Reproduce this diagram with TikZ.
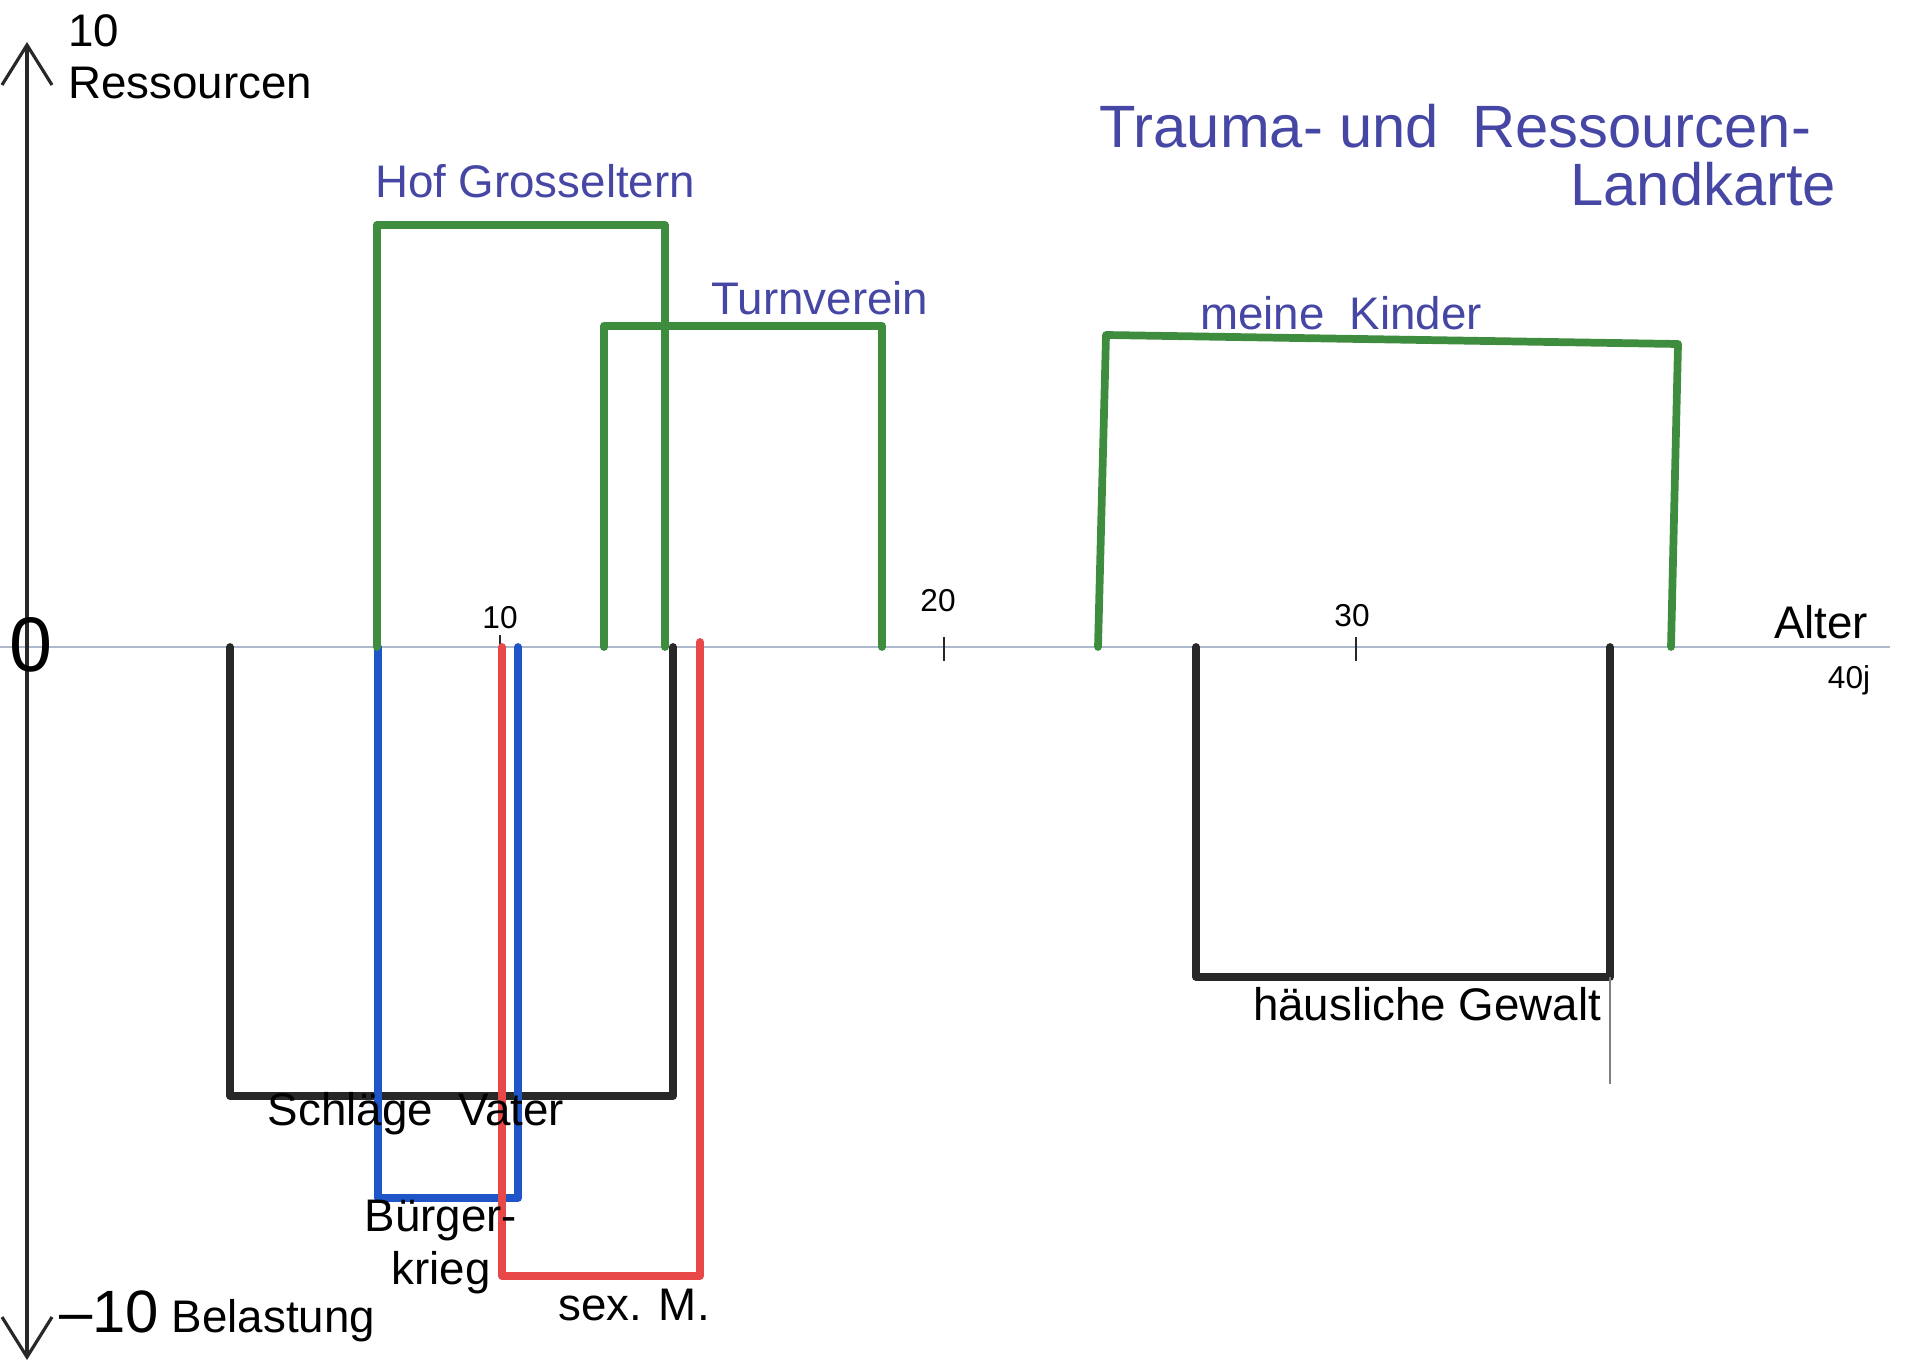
\documentclass[tikz,border=0pt]{standalone}
\usepackage{fontspec}
\setmainfont{Liberation Sans}
\usetikzlibrary{arrows.meta}
\definecolor{gruen}{RGB}{62,140,62}
\definecolor{blau}{RGB}{30,85,200}
\definecolor{rot}{RGB}{232,72,72}
\definecolor{schwarz}{RGB}{40,40,40}
\definecolor{tinte}{RGB}{70,70,165}
\definecolor{achse}{RGB}{175,185,205}
\begin{document}
\begin{tikzpicture}[font=\fontsize{13}{15}\selectfont,
    balken/.style={line width=2.2pt, line join=round, line cap=round},
    ressource/.style={balken, draw=gruen},
    belastung/.style={balken, draw=schwarz},
    tintetext/.style={text=tinte}]
        \useasboundingbox (-0.27,6.47) rectangle (18.93,-7.21);
        \begin{scope}
            \draw[achse, line width=0.7pt] (-0.27,0) -- (18.63,0); % Alter
            \draw[schwarz, line width=0.9pt, {Straight Barb[length=4mm,width=5mm]}-{Straight Barb[length=4mm,width=5mm]}] (0,6.05) -- (0,-7.13); % Ressourcen / Belastung
            \draw[schwarz, line width=0.8pt] (4.73,0.12) -- (4.73,-0.14); % 10
            \draw[schwarz, line width=0.8pt] (9.17,0.10) -- (9.17,-0.14); % 20
            \draw[schwarz, line width=0.8pt] (13.29,0.10) -- (13.29,-0.14); % 30

            \draw[belastung] (2.03,0) |- (6.46,-4.49) -- (6.46,0); % schlaege vater
            \draw[balken, draw=blau] (3.51,0) |- (4.91,-5.51) -- (4.91,0); % buergerkrieg
            \draw[balken, draw=rot] (4.75,0) |- (6.73,-6.29) -- (6.73,0.05); % sex. m.
            \draw[belastung] (11.69,0) |- (15.83,-3.30) -- (15.83,0); % haeusliche gewalt
            \draw[gray, line width=0.5pt] (15.83,-3.30) -- (15.83,-4.37);

            \draw[ressource] (3.50,0) |- (6.38,4.22) -- (6.38,0); % hof grosseltern
            \draw[ressource] (5.77,0) |- (8.55,3.21) -- (8.55,0); % turnverein
            \draw[ressource] (10.71,0) -- (10.79,3.12) -- (16.51,3.03) -- (16.44,0); % meine kinder

            \node (maxwert) at (0.37,6.16) [anchor=west, inner sep=1pt]{10};
            \node (ressourcen) at (0.37,5.64) [anchor=west, inner sep=1pt]{Ressourcen};
            \node (null) at (0.04,0.02) [font=\fontsize{22}{24}\selectfont]{0};
            \node (belastung) at (0.20,-6.69) [anchor=west]{\fontsize{17}{19}\selectfont –10\fontsize{13}{15}\selectfont\ Belastung};
            \node (titel) at (10.60,5.21) [anchor=west, tintetext, font=\fontsize{17}{19}\selectfont]{Trauma- und\ \ Ressourcen-};
            \node (titelzwei) at (15.31,4.63) [anchor=west, tintetext, font=\fontsize{17}{19}\selectfont]{Landkarte};

            \node (hof) at (5.08,4.66) [tintetext]{Hof Grosseltern};
            \node (turn) at (7.93,3.49) [tintetext]{Turnverein};
            \node (kinder) at (13.14,3.34) [tintetext]{meine\ \ Kinder};

            \node (zehn) at (4.73,0.29) [font=\small]{10};
            \node (zwanzig) at (9.11,0.46) [font=\small]{20};
            \node (dreissig) at (13.25,0.31) [font=\small]{30};
            \node (alter) at (17.94,0.25){Alter};
            \node (vierzig) at (18.22,-0.33)[font=\small]{40j};

            \node (schlaege) at (3.89,-4.67){Schläge\ \ Vater};
            \node (krieg) at (4.14,-6.00) [align=center]{Bürger-\\krieg};
            \node (sexm) at (6.07,-6.58){sex. M.};
            \node (gewalt) at (14.00,-3.57){häusliche Gewalt};
        \end{scope}
\end{tikzpicture}
\end{document}
